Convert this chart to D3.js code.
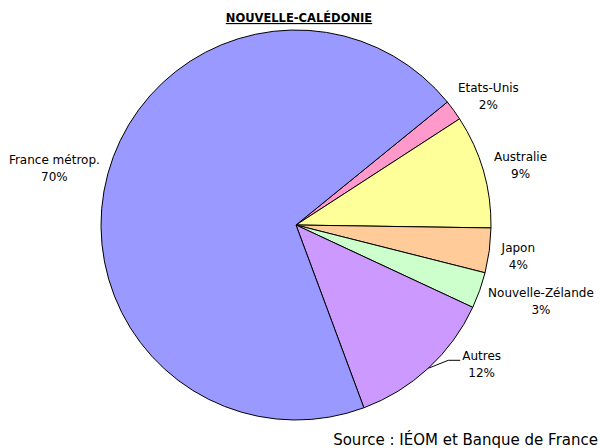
<!DOCTYPE html>
<html>
<head>
<meta charset="utf-8">
<script src="https://cdn.jsdelivr.net/npm/d3@7"></script>
<style>
  body { margin: 0; background: #fff; }
  svg { display: block; font-family: "DejaVu Sans", Verdana, sans-serif; }
</style>
</head>
<body>
<svg id="chart"></svg>
<script>
// Données (parts en %)
const categories = ["Etats-Unis", "Australie", "Japon", "Nouvelle-Zélande", "Autres", "France métrop."];
const values = [1.7, 9.4, 3.7, 3.0, 12.4, 69.8];
const labels = ["2%", "9%", "4%", "3%", "12%", "70%"];
const colors = ["#FF99CC", "#FFFF99", "#FFCC99", "#CCFFCC", "#CC99FF", "#9999FF"];

const width = 600, height = 448;
const cx = 296, cy = 225, radius = 195;

const svg = d3.select("#chart")
    .attr("width", width)
    .attr("height", height);

const data = categories.map((c, i) => ({ name: c, value: values[i], label: labels[i], color: colors[i] }));

const startAngle = 50.9 * Math.PI / 180;
const pie = d3.pie()
    .sort(null)
    .value(d => d.value)
    .startAngle(startAngle)
    .endAngle(startAngle + 2 * Math.PI);

const arc = d3.arc().innerRadius(0).outerRadius(radius);

const g = svg.append("g").attr("transform", `translate(${cx},${cy})`);

const arcs = pie(data);

g.selectAll("path")
    .data(arcs)
    .enter()
    .append("path")
    .attr("d", arc)
    .attr("fill", d => d.data.color)
    .attr("stroke", "#000")
    .attr("stroke-width", 1)
    .attr("stroke-linejoin", "round");

// Etiquettes
const lineH = 17;
arcs.forEach(d => {
    const a = (d.startAngle + d.endAngle) / 2;
    const s = Math.sin(a), c = -Math.cos(a);
    let lx, ly;
    const tmp = g.append("text")
        .attr("font-size", 12)
        .attr("text-anchor", "middle")
        .attr("fill", "#000");
    tmp.append("tspan").attr("x", 0).text(d.data.name);
    tmp.append("tspan").attr("x", 0).attr("dy", lineH).text(d.data.label);
    const w = tmp.node().getBBox().width;

    if (d.data.name === "Autres") {
        // étiquette déplacée avec trait de rappel
        const p0 = [radius * s, radius * c];
        const p1 = [p0[0] + 20, p0[1] - 8];
        const p2 = [p1[0] + 12, p1[1]];
        g.append("polyline")
            .attr("points", [p0, p1, p2].map(p => p.join(",")).join(" "))
            .attr("fill", "none")
            .attr("stroke", "#000")
            .attr("stroke-width", 1);
        lx = p2[0] + 2 + w / 2;
        ly = p2[1] + 2;
    } else {
        const r = radius + 10;
        lx = r * s + s * w / 2 + (s > 0 ? 2 : 0);
        ly = r * c + c * lineH;
    }
    tmp.attr("transform", `translate(${lx},${ly - lineH / 2 + 6})`);
});

// Titre
svg.append("text")
    .attr("x", 299)
    .attr("y", 22)
    .attr("text-anchor", "middle")
    .attr("font-size", 11.5)
    .attr("font-weight", "bold")
    .attr("text-decoration", "underline")
    .text("NOUVELLE-CALÉDONIE");

// Source
svg.append("text")
    .attr("x", 598)
    .attr("y", 445)
    .attr("text-anchor", "end")
    .attr("font-size", 15)
    .text("Source : IÉOM et Banque de France");
</script>
</body>
</html>
